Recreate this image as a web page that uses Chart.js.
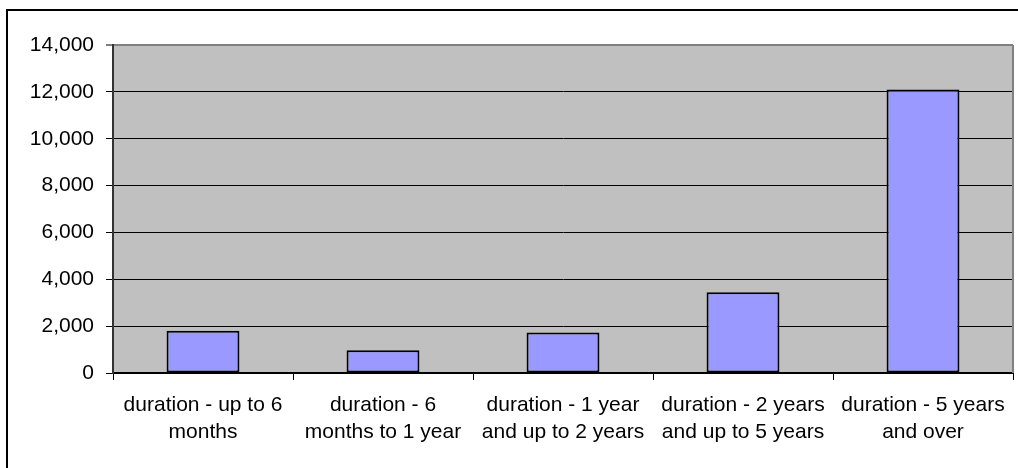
<!DOCTYPE html>
<html>
<head>
<meta charset="utf-8">
<script src="https://cdn.jsdelivr.net/npm/chart.js@4/dist/chart.umd.min.js"></script>
<style>
  html, body { margin: 0; padding: 0; background: #fff; }
  #wrap { width: 1018px; height: 468px; }
</style>
</head>
<body>
<div id="wrap"><canvas id="c" width="1018" height="468"></canvas></div>
<script>
const categories = [
  ["duration - up to 6", "months"],
  ["duration - 6", "months to 1 year"],
  ["duration - 1 year", "and up to 2 years"],
  ["duration - 2 years", "and up to 5 years"],
  ["duration - 5 years", "and over"]
];
const values = [1800, 970, 1730, 3450, 12100];
const yMin = 0, yMax = 14000, yStep = 2000;

const FONT = "'Liberation Sans', Arial, sans-serif";

const framePlugin = {
  id: 'frame',
  beforeDatasetsDraw(chart) {},
  beforeDraw(chart) {
    const ctx = chart.ctx, a = chart.chartArea;
    ctx.save();
    ctx.fillStyle = '#C0C0C0';
    ctx.fillRect(a.left, a.top, a.right - a.left, a.bottom - a.top);
    ctx.restore();
  },
  afterDraw(chart) {
    const ctx = chart.ctx, a = chart.chartArea;
    ctx.save();
    // right border of plot area
    ctx.strokeStyle = '#808080';
    ctx.lineWidth = 2;
    ctx.beginPath();
    ctx.moveTo(a.right, a.top);
    ctx.lineTo(a.right, a.bottom);
    ctx.stroke();
    // outer chart border
    ctx.strokeStyle = '#000';
    ctx.lineWidth = 2;
    ctx.beginPath();
    ctx.moveTo(7, 470);
    ctx.lineTo(7, 10);
    ctx.lineTo(1030, 10);
    ctx.stroke();
    ctx.restore();
  }
};

new Chart(document.getElementById('c'), {
  type: 'bar',
  data: {
    labels: categories,
    datasets: [{
      data: values,
      backgroundColor: '#9999FF',
      borderColor: '#000000',
      borderWidth: 2,
      borderSkipped: false,
      barPercentage: 0.405,
      categoryPercentage: 1.0
    }]
  },
  options: {
    responsive: false,
    animation: false,
    devicePixelRatio: 1,
    layout: { padding: { left: 0, top: 45, right: 5, bottom: 0 } },
    plugins: {
      legend: { display: false },
      title: { display: false },
      tooltip: { enabled: false }
    },
    scales: {
      x: {
        offset: true,
        grid: {
          offset: true,
          drawOnChartArea: false,
          drawTicks: true,
          tickLength: 7,
          color: '#000',
          lineWidth: 1
        },
        border: { display: true, color: '#000', width: 2 },
        ticks: {
          color: '#000',
          font: { family: FONT, size: 21, lineHeight: 1.27 },
          padding: 12,
          maxRotation: 0,
          minRotation: 0,
          autoSkip: false
        },
        afterFit(scale) { scale.height = 95; }
      },
      y: {
        min: yMin,
        max: yMax,
        grid: {
          color: (c) => (c.tick && c.tick.value === yMax) ? '#808080' : '#000',
          lineWidth: (c) => (c.tick && c.tick.value === yMax) ? 2 : 1,
          tickLength: 7,
          drawTicks: true
        },
        border: { display: true, color: '#333', width: 2 },
        ticks: {
          stepSize: yStep,
          color: '#000',
          font: { family: FONT, size: 21 },
          padding: 12,
          callback: (v) => v.toLocaleString('en-US')
        },
        afterFit(scale) { scale.width = 113; }
      }
    }
  },
  plugins: [framePlugin]
});
</script>
</body>
</html>
